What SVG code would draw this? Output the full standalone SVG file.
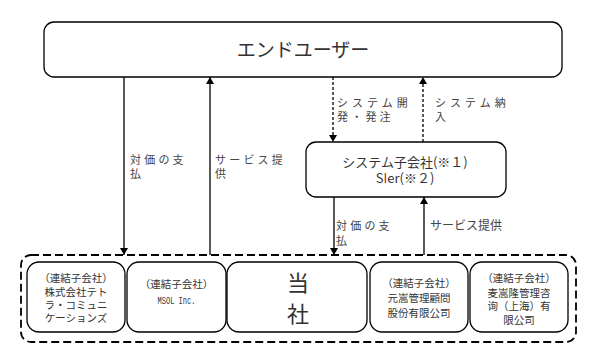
<svg xmlns="http://www.w3.org/2000/svg" width="598" height="361" viewBox="0 0 598 361">
<defs>
<marker id="ah" markerWidth="7" markerHeight="8" refX="7" refY="4" orient="auto" markerUnits="userSpaceOnUse">
<path d="M0,0 L7,4 L0,8 z" fill="#000"/>
</marker>
<style>
.box{fill:#fff;stroke:#000;stroke-width:1.3}
.frame{fill:none;stroke:#000;stroke-width:1.8;stroke-dasharray:8 4}
.ln{fill:none;stroke:#000;stroke-width:1.3}
.dl{fill:none;stroke:#000;stroke-width:1.3;stroke-dasharray:3 2}
text{font-family:"Noto Sans CJK JP","Noto Sans",sans-serif;fill:#333}
.lbl{font-size:11px;fill:#444}
.sp3{letter-spacing:3.2px}
.sp4{letter-spacing:4px}
.c{text-anchor:middle}
.sub{font-size:10.5px}
</style>
</defs>
<rect width="598" height="361" fill="#fff"/>

<g id="frame">
<rect class="frame" x="21" y="255" width="555" height="87" rx="10"/>
</g>

<g id="enduser">
<rect class="box" x="44" y="22" width="518" height="55" rx="10"/>
<text class="c" x="303" y="57" font-size="19">エンドユーザー</text>
</g>

<g id="system">
<rect class="box" x="306" y="142" width="200" height="55" rx="10"/>
<text class="c" x="405" y="166.5" font-size="13">システム子会社(※１)</text>
<text class="c" x="405" y="183" font-size="13">S<tspan fill="#e00">I</tspan>er(※２)</text>
</g>

<g id="tetra">
<rect class="box" x="27" y="262" width="98" height="70" rx="12"/>
<text class="c sub" x="76" y="282">（連結子会社）</text>
<text class="c sub" x="76" y="295.5">株式会社テト</text>
<text class="c sub" x="76" y="308.5">ラ・コミュニ</text>
<text class="c sub" x="76" y="322">ケーションズ</text>
</g>

<g id="msol">
<rect class="box" x="127" y="262" width="99" height="70" rx="12"/>
<text class="c sub" x="176.5" y="288">（連結子会社）</text>
<text class="c" x="176.5" y="304" textLength="38" lengthAdjust="spacingAndGlyphs" style="font-family:'Liberation Mono',monospace;font-size:11.5px">MSOL Inc.</text>
</g>

<g id="tosha">
<rect class="box" x="227" y="262" width="140" height="70" rx="12"/>
<text class="c" x="298" y="291" font-size="22">当</text>
<text class="c" x="298" y="322" font-size="22">社</text>
</g>

<g id="taiwan">
<rect class="box" x="370" y="262" width="98" height="70" rx="12"/>
<text class="c sub" x="419" y="287">（連結子会社）</text>
<text class="c sub" x="419" y="302">元嵩管理顧問</text>
<text class="c sub" x="419" y="316.5">股份有限公司</text>
</g>

<g id="shanghai">
<rect class="box" x="470" y="262" width="98" height="70" rx="12"/>
<text class="c sub" x="519" y="282">（連結子会社）</text>
<text class="c sub" x="519" y="296.5">麦嵩隆管理咨</text>
<text class="c sub" x="519" y="310">询（上海）有</text>
<text class="c sub" x="519" y="323.5">限公司</text>
</g>

<g id="connectors">
<line class="ln" x1="124" y1="77" x2="124" y2="255" marker-end="url(#ah)"/>
<line class="ln" x1="210" y1="255" x2="210" y2="77" marker-end="url(#ah)"/>
<line class="dl" x1="333" y1="77" x2="333" y2="142" marker-end="url(#ah)"/>
<line class="dl" x1="423" y1="142" x2="423" y2="77" marker-end="url(#ah)"/>
<line class="ln" x1="334" y1="197" x2="334" y2="255" marker-end="url(#ah)"/>
<line class="ln" x1="424" y1="255" x2="424" y2="197" marker-end="url(#ah)"/>
<text class="lbl sp3" x="130" y="164">対価の支</text>
<text class="lbl" x="130" y="178">払</text>
<text class="lbl sp3" x="215" y="164">サービス提</text>
<text class="lbl" x="215" y="178">供</text>
<text class="lbl sp4" x="337" y="107">システム開</text>
<text class="lbl sp3" x="337" y="121">発・発注</text>
<text class="lbl sp4" x="435" y="107">システム納</text>
<text class="lbl" x="435" y="121">入</text>
<text class="lbl sp3" x="336" y="230">対価の支</text>
<text class="lbl" x="336" y="245">払</text>
<text class="lbl" x="430" y="230" style="font-size:12px">サービス提供</text>
</g>
</svg>
